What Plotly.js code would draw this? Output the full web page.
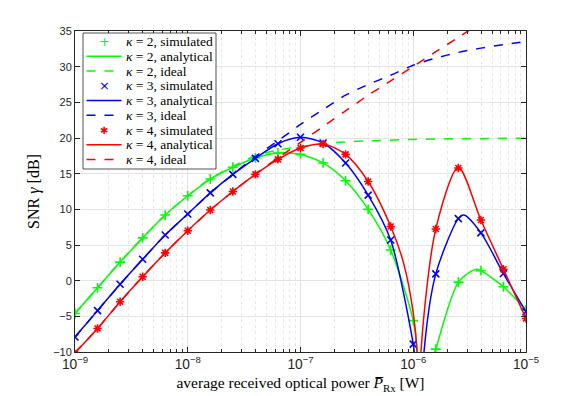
<!DOCTYPE html>
<html>
<head>
<meta charset="utf-8">
<script src="https://cdn.plot.ly/plotly-3.0.1.min.js"></script>
<style>
  html, body { margin: 0; padding: 0; background: #fff; }
  #chart { width: 581px; height: 396px; }
</style>
</head>
<body>
<div id="chart"></div>
<script>
// received power grid of the simulated points [W]
var pSim = [1e-9, 1.585e-9, 2.512e-9, 3.981e-9, 6.310e-9,
            1e-8, 1.585e-8, 2.512e-8, 3.981e-8, 6.310e-8,
            1e-7, 1.585e-7, 2.512e-7, 3.981e-7, 6.310e-7,
            1e-6, 1.585e-6, 2.512e-6, 3.981e-6, 6.310e-6, 1e-5];

// simulated SNR [dB]
var sim2 = [-4.6, -1.0, 2.6, 6.0, 9.2, 11.9, 14.25, 15.9, 17.2, 17.9, 17.7,
            16.5, 14.0, 10.0, 4.3, -5.6, -9.6, -0.2, 1.4, -0.85, -4.1];
var sim3 = [-7.9, -4.2, -0.5, 3.0, 6.4, 9.35, 12.3, 14.9, 17.15, 19.2, 20.1,
            19.3, 16.5, 12.0, 5.7, -8.9, 0.95, 8.7, 6.7, 1.0, -4.35];
var sim4 = [-10.3, -6.7, -2.95, 0.55, 3.9, 7.0, 9.9, 12.5, 14.9, 17.0, 18.6,
            19.15, 17.7, 13.9, 7.6, null, 7.25, 15.8, 8.5, 1.6, -5.3];

// analytical curves (extra points around the zeros and peaks)
var pAna2 = [1e-9, 1.585e-9, 2.512e-9, 3.981e-9, 6.310e-9, 1e-8, 1.585e-8, 2.512e-8,
             3.981e-8, 6.310e-8, 1e-7, 1.585e-7, 2.512e-7, 3.981e-7, 6.310e-7, 1e-6,
             1.09e-6, 1.3e-6, 1.55e-6, 1.585e-6, 2.512e-6, 3.6e-6, 3.981e-6, 6.310e-6, 1e-5];
var ana2 = [-4.6, -1.0, 2.6, 6.0, 9.2, 11.9, 14.25, 15.9, 17.2, 17.9, 17.7,
            16.5, 14.0, 10.0, 4.3, -5.6, -10, -30, -10, -9.6, -0.2, 1.6, 1.4, -0.85, -4.1];
var pAna3 = [1e-9, 1.585e-9, 2.512e-9, 3.981e-9, 6.310e-9, 1e-8, 1.585e-8, 2.512e-8,
             3.981e-8, 6.310e-8, 1e-7, 1.585e-7, 2.512e-7, 3.981e-7, 6.310e-7, 1e-6,
             1.02e-6, 1.12e-6, 1.245e-6, 1.585e-6, 2.512e-6, 2.82e-6, 3.981e-6, 6.310e-6, 1e-5];
var ana3 = [-7.9, -4.2, -0.5, 3.0, 6.4, 9.35, 12.3, 14.9, 17.15, 19.2, 20.1,
            19.3, 16.5, 12.0, 5.7, -8.9, -10, -30, -10, 0.95, 8.7, 9.2, 6.7, 1.0, -4.35];
var pAna4 = [1e-9, 1.585e-9, 2.512e-9, 3.981e-9, 6.310e-9, 1e-8, 1.585e-8, 2.512e-8,
             3.981e-8, 6.310e-8, 1e-7, 1.585e-7, 2.512e-7, 3.981e-7, 6.310e-7, 8.2e-7, 1e-6,
             1.08e-6, 1.12e-6, 1.17e-6, 1.585e-6, 2.512e-6, 3.981e-6, 6.310e-6, 1e-5];
var ana4 = [-10.1, -6.7, -2.95, 0.55, 3.9, 7.0, 9.9, 12.5, 14.9, 17.0, 18.6,
            19.15, 17.7, 13.9, 7.6, 2.5, -4.5, -10, -30, -10, 7.25, 15.9, 8.5, 1.6, -5.3];

// ideal (no clipping) curves
var pIdeal = [1e-9, 1.585e-9, 2.512e-9, 3.981e-9, 6.310e-9, 1e-8, 1.585e-8, 2.512e-8,
              3.981e-8, 6.310e-8, 1e-7, 1.585e-7, 2.512e-7, 3.981e-7, 6.310e-7,
              1e-6, 1.585e-6, 2.512e-6, 3.981e-6, 6.310e-6, 1e-5];
var ideal2 = [-4.6, -1.0, 2.6, 6.0, 9.2, 11.9, 14.3, 16.0, 17.5, 18.3, 18.8,
              19.2, 19.45, 19.6, 19.7, 19.8, 19.85, 19.9, 19.9, 19.95, 19.95];
var ideal3 = [-7.9, -4.2, -0.5, 3.0, 6.4, 9.35, 12.3, 14.9, 17.4, 19.6, 21.9,
              24.0, 26.0, 27.5, 28.8, 30.2, 31.2, 32.0, 32.6, 33.1, 33.5];
var ideal4 = [-10.1, -6.7, -2.95, 0.55, 3.9, 7.0, 9.9, 12.5, 14.95, 17.2, 19.4,
              21.6, 23.8, 26.0, 28.0, 30.05, 32.1, 34.1, 36.2, 38.2, 40.2];

var kappas = ['2', '3', '4'];
var kinds = ['simulated', 'analytical', 'ideal'];

var green = '#00ff00', blue = '#0000ff', red = '#ff0000';
var colors = [green, blue, red];
var glyphs = ['+', '×', '✱'];

function simTrace(y, col, sym, name) {
  return {x: pSim, y: y, mode: 'markers', name: name, type: 'scatter',
    marker: {symbol: sym, size: 7, color: col, line: {color: col, width: 1.6}}};
}
function lineTrace(x, y, col, dash, name) {
  return {x: x, y: y, mode: 'lines', name: name, type: 'scatter',
    line: {color: col, width: 1.5, dash: dash, shape: 'spline', smoothing: 0.8}};
}

var data = [
  simTrace(sim2, green, 'cross-thin-open', 'κ = 2, simulated'),
  lineTrace(pAna2, ana2, green, 'solid', 'κ = 2, analytical'),
  lineTrace(pIdeal, ideal2, green, 'dash', 'κ = 2, ideal'),
  simTrace(sim3, blue, 'x-thin-open', 'κ = 3, simulated'),
  lineTrace(pAna3, ana3, blue, 'solid', 'κ = 3, analytical'),
  lineTrace(pIdeal, ideal3, blue, 'dash', 'κ = 3, ideal'),
  simTrace(sim4, red, 'asterisk-open', 'κ = 4, simulated'),
  lineTrace(pAna4, ana4, red, 'solid', 'κ = 4, analytical'),
  lineTrace(pIdeal, ideal4, red, 'dash', 'κ = 4, ideal')
];

// MATLAB-style compact legend (the built-in one has taller rows)
var axisCol = '#262626';
var serif = 'Liberation Serif, Times New Roman, serif';
var plotL = 75, plotT = 31, plotW = 451, plotH = 321;
function px(x) { return (x - plotL) / plotW; }
function py(y) { return (plotT + plotH - y) / plotH; }

var shapes = [{type: 'rect', xref: 'paper', yref: 'paper', layer: 'above',
  x0: px(83), x1: px(216), y0: py(169), y1: py(33),
  fillcolor: '#fff', line: {color: axisCol, width: 0.8}}];
var annotations = [];
var row = 0;
for (var k = 0; k < kappas.length; k++) {
  for (var j = 0; j < kinds.length; j++) {
    var yc = py(41.5 + 14.75 * row);
    if (j === 0) {
      annotations.push({xref: 'paper', yref: 'paper', x: px(104), y: yc,
        xanchor: 'center', yanchor: 'middle', showarrow: false, text: glyphs[k],
        font: {family: 'DejaVu Sans, sans-serif', size: k === 2 ? 10 : 13, color: colors[k]}});
    } else {
      shapes.push({type: 'line', xref: 'paper', yref: 'paper', layer: 'above',
        x0: px(86.5), x1: px(121.5), y0: yc, y1: yc,
        line: {color: colors[k], width: 1.5, dash: j === 1 ? 'solid' : 'dash'}});
    }
    annotations.push({xref: 'paper', yref: 'paper', x: px(124), y: yc,
      xanchor: 'left', yanchor: 'middle', showarrow: false,
      text: '<i>κ</i> = ' + kappas[k] + ', ' + kinds[j],
      font: {family: serif, size: 13.5, color: '#000'}});
    row++;
  }
}

var layout = {
  width: 581, height: 396,
  margin: {l: plotL, r: 581 - plotL - plotW, t: plotT, b: 396 - plotT - plotH},
  paper_bgcolor: '#fff', plot_bgcolor: '#fff',
  showlegend: false,
  shapes: shapes,
  annotations: annotations,
  xaxis: {
    type: 'log', range: [-9, -5], dtick: 1,
    exponentformat: 'power',
    showline: true, linecolor: axisCol, linewidth: 1, mirror: 'ticks',
    ticks: 'inside', ticklen: 5, tickcolor: axisCol,
    showgrid: true, gridcolor: '#e3e3e3', gridwidth: 1,
    zeroline: false,
    tickfont: {family: 'Liberation Sans, Arial, sans-serif', size: 11, color: axisCol},
    minor: {dtick: 'D1', showgrid: true, gridcolor: '#e8e8e8', griddash: 'dot',
            ticks: 'inside', ticklen: 3, tickcolor: axisCol},
    title: {text: 'average received optical power <i>P̅</i><sub>Rx</sub> [W]',
            font: {family: serif, size: 15.5, color: '#000'}, standoff: 6}
  },
  yaxis: {
    range: [-10, 35], dtick: 5,
    showline: true, linecolor: axisCol, linewidth: 1, mirror: 'ticks',
    ticks: 'inside', ticklen: 5, tickcolor: axisCol,
    showgrid: true, gridcolor: '#e3e3e3', gridwidth: 1,
    zeroline: false,
    tickfont: {family: 'Liberation Sans, Arial, sans-serif', size: 11, color: axisCol},
    title: {text: 'SNR <i>γ</i> [dB]',
            font: {family: serif, size: 16, color: '#000'}, standoff: 9}
  }
};

Plotly.newPlot('chart', data, layout, {displayModeBar: false, staticPlot: true});
</script>
</body>
</html>
